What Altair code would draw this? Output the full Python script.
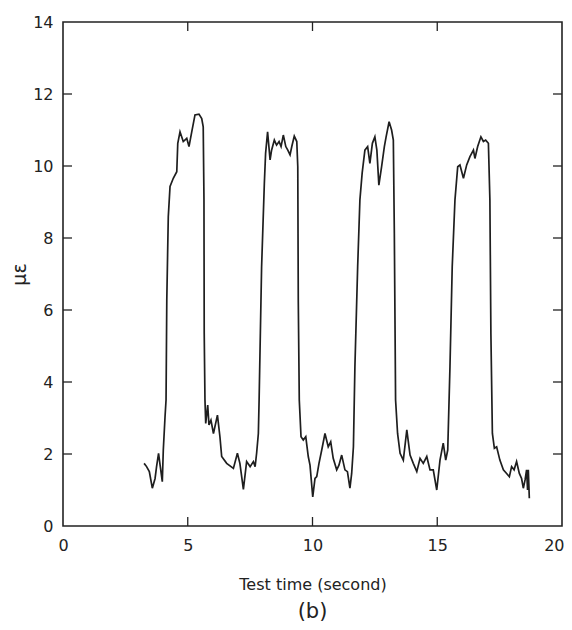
import altair as alt
import pandas as pd

# traced strain signal (time in s, microstrain)
time_s = [3.25, 3.35, 3.46, 3.58, 3.69, 3.75, 3.83, 3.90, 3.98, 4.02, 4.09, 4.13, 4.16, 4.22, 4.29,
          4.42, 4.56, 4.60, 4.69, 4.82, 4.96, 5.05, 5.16, 5.29, 5.45, 5.56, 5.62, 5.65, 5.66, 5.69,
          5.72, 5.80, 5.85, 5.93, 6.03, 6.19, 6.29, 6.36, 6.56, 6.83, 6.99, 7.09, 7.23, 7.36, 7.50,
          7.63, 7.70, 7.76, 7.83, 7.86, 7.96, 8.07, 8.12, 8.20, 8.30, 8.36, 8.47, 8.56, 8.66, 8.74,
          8.83, 8.93, 9.01, 9.10, 9.17, 9.27, 9.37, 9.41, 9.43, 9.47, 9.54, 9.63, 9.73, 9.83, 9.90,
          10.01, 10.10, 10.17, 10.26, 10.37, 10.50, 10.63, 10.73, 10.83, 10.97, 11.06, 11.17, 11.30,
          11.40, 11.50, 11.57, 11.64, 11.70, 11.81, 11.90, 11.99, 12.10, 12.21, 12.30, 12.40, 12.50,
          12.58, 12.66, 12.77, 12.88, 12.95, 13.07, 13.17, 13.24, 13.28, 13.33, 13.41, 13.51, 13.64,
          13.78, 13.91, 14.04, 14.18, 14.31, 14.44, 14.58, 14.71, 14.84, 14.98, 15.11, 15.24, 15.34,
          15.42, 15.51, 15.60, 15.71, 15.82, 15.91, 16.05, 16.18, 16.31, 16.45, 16.51, 16.62, 16.75,
          16.85, 16.94, 17.05, 17.11, 17.15, 17.21, 17.29, 17.38, 17.51, 17.65, 17.78, 17.89, 17.98,
          18.08, 18.18, 18.29, 18.38, 18.45, 18.52, 18.58, 18.62, 18.65, 18.69]
strain = [1.74, 1.65, 1.51, 1.05, 1.32, 1.65, 2.02, 1.65, 1.23, 2.11, 3.04, 3.50, 6.28, 8.59, 9.43,
          9.66, 9.84, 10.63, 10.95, 10.68, 10.77, 10.54, 10.95, 11.42, 11.44, 11.32, 11.09, 9.06, 5.36, 3.50,
          2.85, 3.36, 2.81, 2.94, 2.57, 3.08, 2.48, 1.93, 1.74, 1.60, 2.02, 1.74, 1.02, 1.79, 1.65,
          1.79, 1.65, 2.02, 2.57, 3.50, 7.20, 9.52, 10.35, 10.95, 10.17, 10.44, 10.72, 10.58, 10.68, 10.54,
          10.86, 10.54, 10.44, 10.31, 10.54, 10.83, 10.68, 9.98, 6.28, 3.50, 2.48, 2.39, 2.48, 1.93, 1.69,
          0.81, 1.32, 1.37, 1.74, 2.11, 2.57, 2.20, 2.34, 1.88, 1.56, 1.69, 1.97, 1.56,
          1.51, 1.05, 1.46, 2.20, 4.43, 7.20, 9.06, 9.80, 10.44, 10.54, 10.07, 10.63, 10.81,
          10.44, 9.47, 9.98, 10.54, 10.81, 11.23, 11.00, 10.72, 8.13, 3.50, 2.57, 2.02, 1.83,
          2.67, 1.97, 1.74, 1.51, 1.88, 1.74, 1.93, 1.56, 1.56, 1.00, 1.83, 2.30, 1.83,
          2.11, 4.43, 7.20, 9.06, 9.98, 10.03, 9.66, 10.03, 10.26, 10.44, 10.21, 10.54, 10.81,
          10.68, 10.72, 10.63, 9.06, 5.35, 2.57, 2.16, 2.20, 1.83, 1.56, 1.46, 1.37, 1.65,
          1.56, 1.79, 1.46, 1.32, 1.05, 1.28, 1.56, 1.00, 1.56, 0.77]

x_ticks = [5, 10, 15]
y_ticks = [2, 4, 6, 8, 10, 12]

W, H = 499, 504
TICK = 9
FONT = "DejaVu Sans"

df = pd.DataFrame({"t": time_s, "e": strain})
xs = alt.Scale(domain=[0, 20], nice=False, zero=False)
ys = alt.Scale(domain=[0, 14], nice=False, zero=False)

line = alt.Chart(df).mark_line(color="#1e1e1e", strokeWidth=1.7, interpolate="linear").encode(
    x=alt.X("t:Q", scale=xs,
            axis=alt.Axis(title="Test time (second)", values=[0, 5, 10, 15, 20], ticks=False,
                          domain=False, grid=False, labelFontSize=16, labelFont=FONT,
                          labelColor="#222", labelPadding=11, labelFlush=False,
                          labelAlign={"condition": {"test": "datum.value == 20", "value": "right"},
                                      "value": "center"},
                          labelOffset={"condition": {"test": "datum.value == 20", "value": 2},
                                       "value": 0},
                          titleFont=FONT, titleFontSize=16,
                          titleFontWeight="normal", titleColor="#222", titlePadding=23)),
    y=alt.Y("e:Q", scale=ys,
            axis=alt.Axis(title="με", values=[0, 2, 4, 6, 8, 10, 12, 14], ticks=False,
                          domain=False, grid=False, labelFontSize=16, labelFont=FONT,
                          labelColor="#222", labelPadding=10, labelFlush=False,
                          titleFont=FONT, titleFontSize=19,
                          titleFontWeight="normal", titleColor="#222", titlePadding=3)),
)

xt = pd.DataFrame({"xt": x_ticks})
yt = pd.DataFrame({"yt": y_ticks})

bottom_ticks = alt.Chart(xt).mark_rule(color="#222", strokeWidth=1.3).encode(
    x=alt.X("xt:Q", scale=xs), y=alt.value(H), y2=alt.value(H - TICK))
top_ticks = alt.Chart(xt).mark_rule(color="#222", strokeWidth=1.3).encode(
    x=alt.X("xt:Q", scale=xs), y=alt.value(0), y2=alt.value(TICK))
left_ticks = alt.Chart(yt).mark_rule(color="#222", strokeWidth=1.3).encode(
    y=alt.Y("yt:Q", scale=ys), x=alt.value(0), x2=alt.value(TICK))
right_ticks = alt.Chart(yt).mark_rule(color="#222", strokeWidth=1.3).encode(
    y=alt.Y("yt:Q", scale=ys), x=alt.value(W - TICK), x2=alt.value(W))

chart = alt.layer(line, bottom_ticks, top_ticks, left_ticks, right_ticks).properties(
    width=W, height=H,
    background="white",
    autosize=alt.AutoSizeParams(type="none"),
    padding={"left": 55, "top": 14, "right": 2, "bottom": 98},
    title=alt.TitleParams(text="(b)", orient="bottom", fontSize=21, font=FONT,
                          fontWeight="normal", color="#222", offset=9),
).configure_view(stroke="#222", strokeWidth=1.6)

chart.save("out.html", embed_options={"renderer": "svg", "actions": False})
